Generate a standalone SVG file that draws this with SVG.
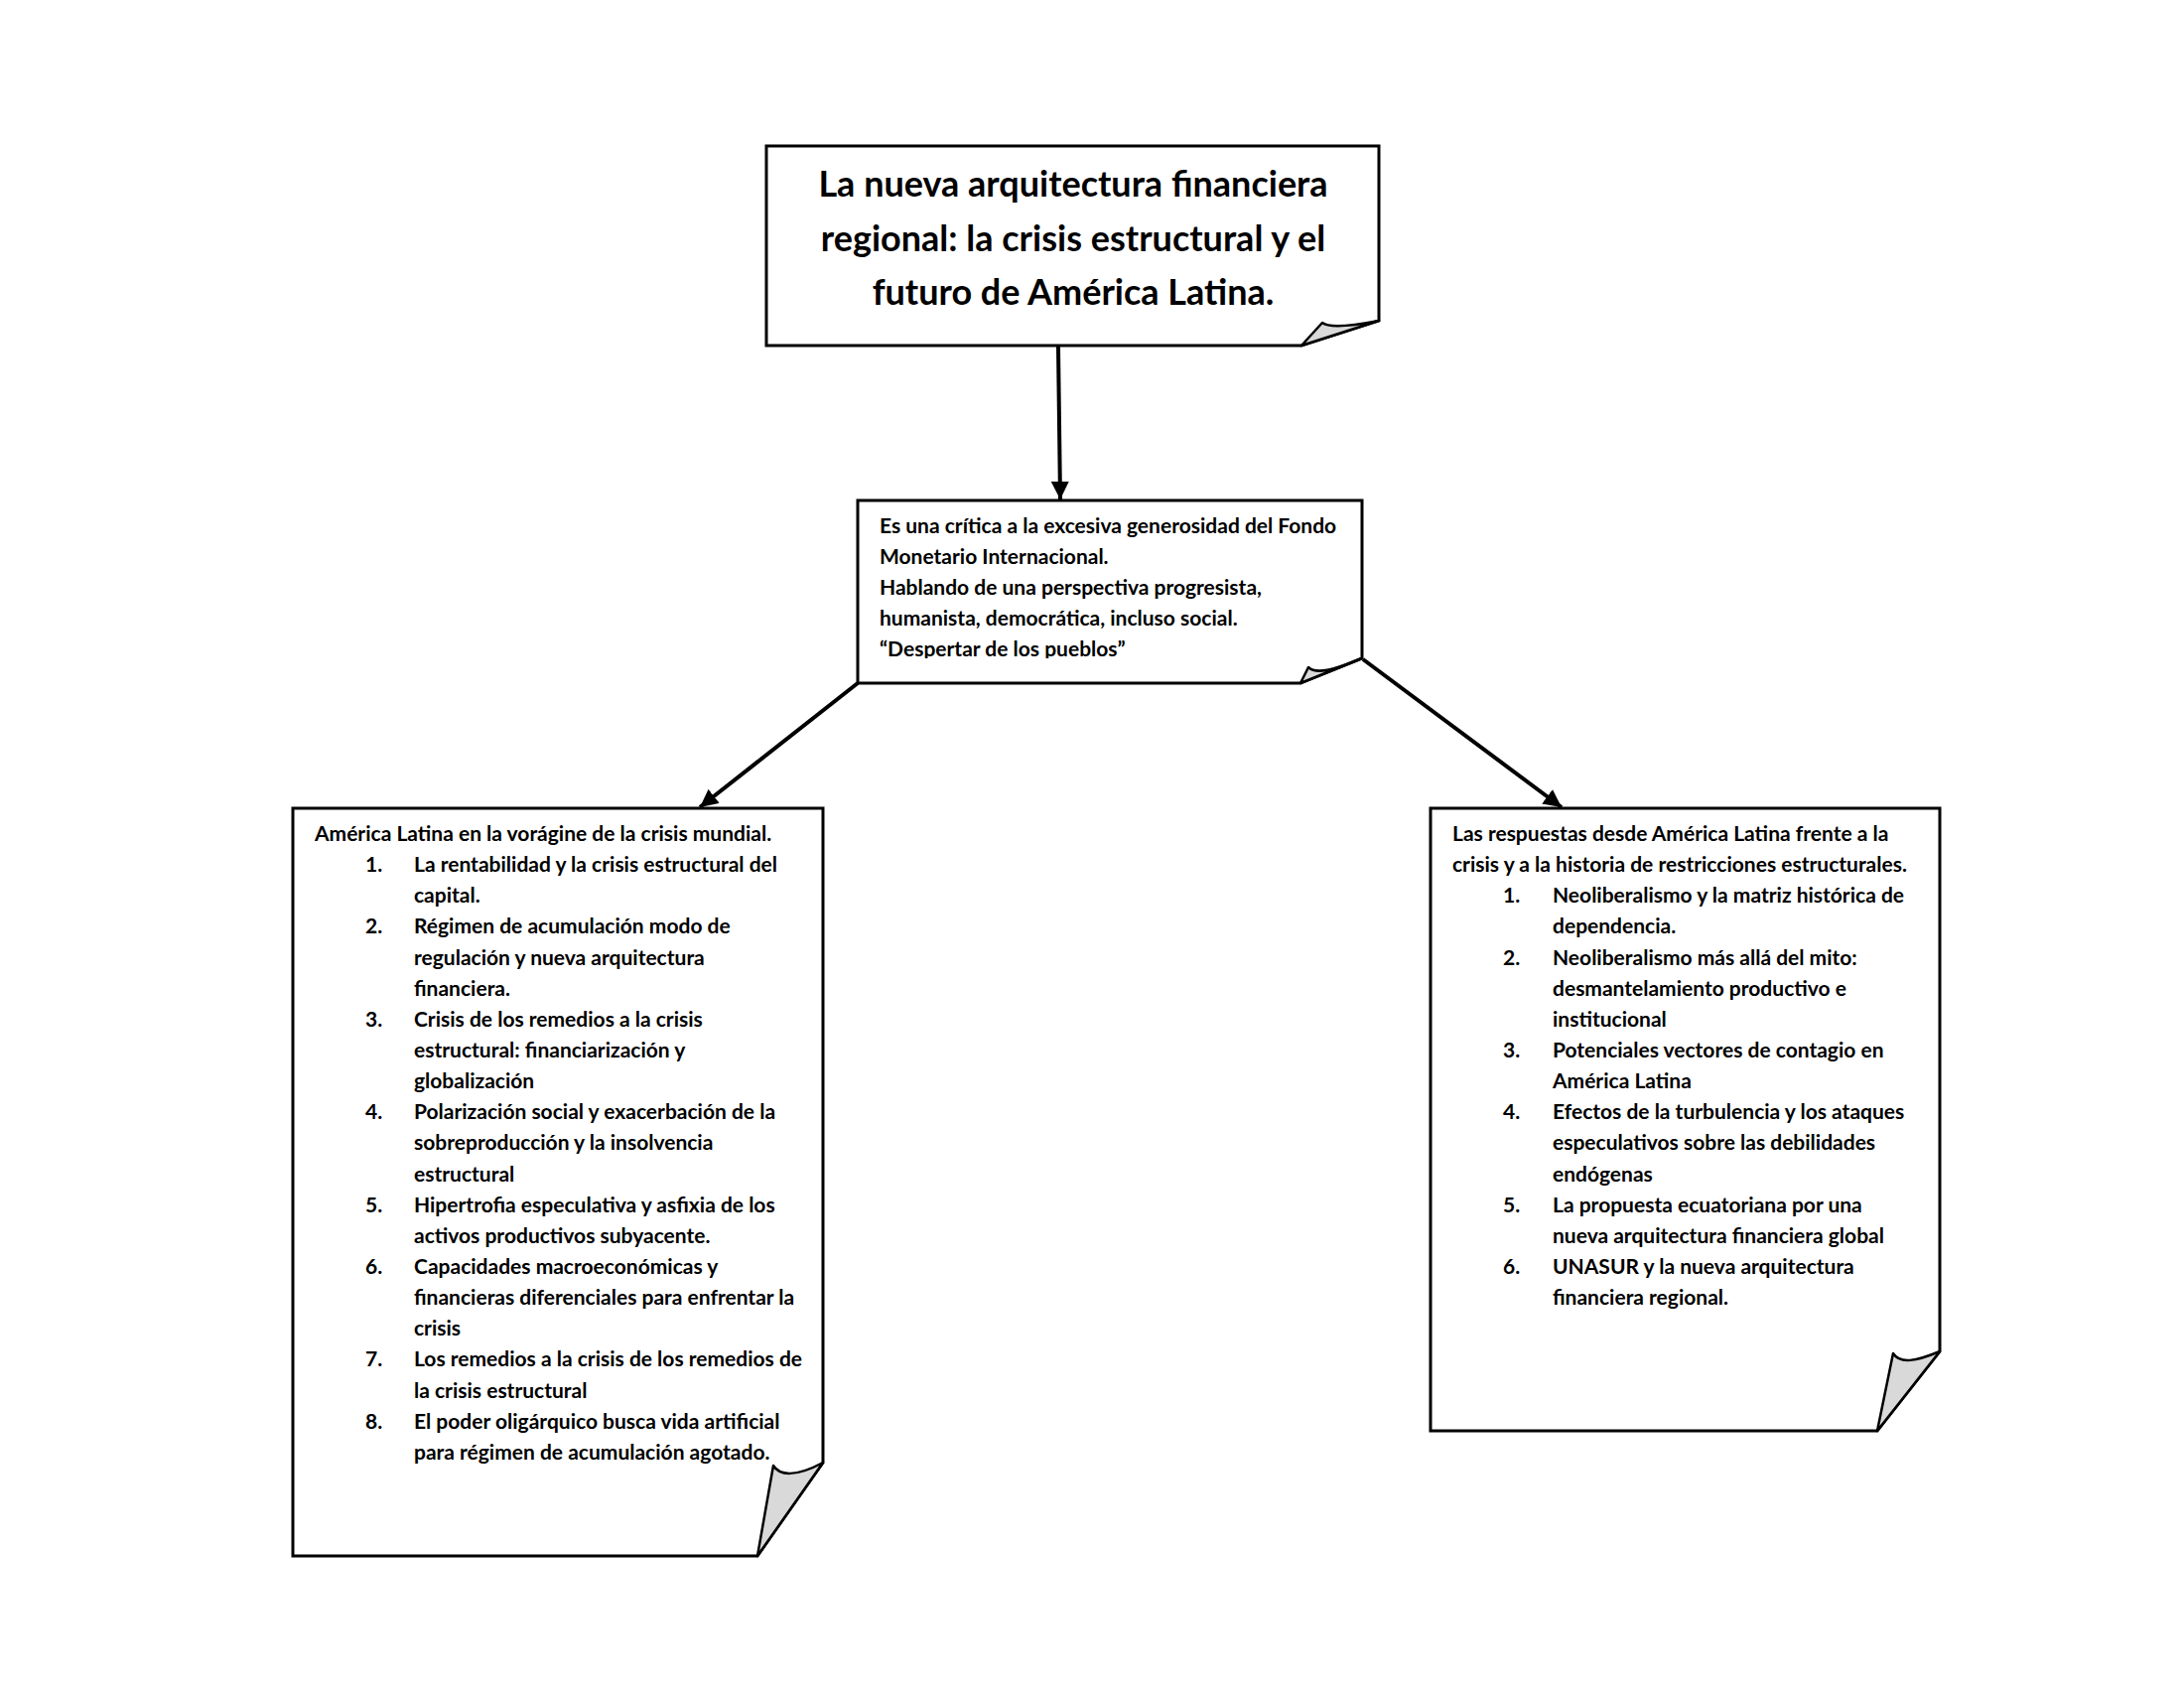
<svg xmlns="http://www.w3.org/2000/svg" width="2200" height="1700" viewBox="0 0 2200 1700">
<defs>
<style>
.box{fill:#fff;stroke:#000;stroke-width:3;stroke-linejoin:miter}
.fold{fill:#d9d9d9;stroke:#000;stroke-width:2.5;stroke-linejoin:round}
.t{font-family:Lato,"Liberation Sans",sans-serif;font-weight:bold;fill:#000}
.title{font-size:36px;text-anchor:middle}
.body{font-size:21px}
.conn{stroke:#000;stroke-width:4;fill:none;marker-end:url(#ah)}
</style>
<marker id="ah" markerUnits="userSpaceOnUse" markerWidth="20" markerHeight="18" refX="18" refY="9" orient="auto" viewBox="0 0 20 18">
<path d="M0,0 L18,9 L0,18 Z" fill="#000"/>
</marker>
<clipPath id="clipMid"><rect x="866" y="506" width="505" height="157"/></clipPath>
</defs>
<rect width="2200" height="1700" fill="#fff"/>

<g id="connectors">
<line class="conn" x1="1066" y1="349" x2="1068" y2="503"/>
<line class="conn" x1="864" y1="688" x2="705" y2="813"/>
<line class="conn" x1="1373" y1="664" x2="1573" y2="813"/>
</g>

<g id="node-title">
<path class="box" d="M772,147 H1389 V323 L1311,348 H772 Z"/>
<path class="fold" d="M1311,348 L1332,325 C1338,330 1358,329 1389,323 Z"/>
<text class="t title" x="1081" y="198">La nueva arquitectura financiera</text>
<text class="t title" x="1081" y="253">regional: la crisis estructural y el</text>
<text class="t title" x="1081" y="307">futuro de América Latina.</text>
</g>

<g id="node-critica">
<path class="box" d="M864,504 H1372 V663 L1310,688 H864 Z"/>
<path class="fold" d="M1310,688 L1318,672 C1325,679 1342,676 1372,663 Z"/>
<g clip-path="url(#clipMid)">
<text class="t body" x="886" y="537">Es una crítica a la excesiva generosidad del Fondo</text>
<text class="t body" x="886" y="568">Monetario Internacional.</text>
<text class="t body" x="886" y="599">Hablando de una perspectiva progresista,</text>
<text class="t body" x="886" y="630">humanista, democrática, incluso social.</text>
<text class="t body" x="886" y="661">“Despertar de los pueblos”</text>
</g>
</g>

<g id="node-left">
<path class="box" d="M295,814 H829 V1473 L763,1567 H295 Z"/>
<path class="fold" d="M763,1567 L779,1476 C785,1486 801,1488 829,1473 Z"/>
<text class="t body" x="317" y="847">América Latina en la vorágine de la crisis mundial.</text>
<text class="t body" x="368" y="878">1.</text><text class="t body" x="417" y="878">La rentabilidad y la crisis estructural del</text>
<text class="t body" x="417" y="909">capital.</text>
<text class="t body" x="368" y="940">2.</text><text class="t body" x="417" y="940">Régimen de acumulación modo de</text>
<text class="t body" x="417" y="972">regulación y nueva arquitectura</text>
<text class="t body" x="417" y="1003">financiera.</text>
<text class="t body" x="368" y="1034">3.</text><text class="t body" x="417" y="1034">Crisis de los remedios a la crisis</text>
<text class="t body" x="417" y="1065">estructural: financiarización y</text>
<text class="t body" x="417" y="1096">globalización</text>
<text class="t body" x="368" y="1127">4.</text><text class="t body" x="417" y="1127">Polarización social y exacerbación de la</text>
<text class="t body" x="417" y="1158">sobreproducción y la insolvencia</text>
<text class="t body" x="417" y="1190">estructural</text>
<text class="t body" x="368" y="1221">5.</text><text class="t body" x="417" y="1221">Hipertrofia especulativa y asfixia de los</text>
<text class="t body" x="417" y="1252">activos productivos subyacente.</text>
<text class="t body" x="368" y="1283">6.</text><text class="t body" x="417" y="1283">Capacidades macroeconómicas y</text>
<text class="t body" x="417" y="1314">financieras diferenciales para enfrentar la</text>
<text class="t body" x="417" y="1345">crisis</text>
<text class="t body" x="368" y="1376">7.</text><text class="t body" x="417" y="1376">Los remedios a la crisis de los remedios de</text>
<text class="t body" x="417" y="1408">la crisis estructural</text>
<text class="t body" x="368" y="1439">8.</text><text class="t body" x="417" y="1439">El poder oligárquico busca vida artificial</text>
<text class="t body" x="417" y="1470">para régimen de acumulación agotado.</text>
</g>

<g id="node-right">
<path class="box" d="M1441,814 H1954 V1361 L1891,1441 H1441 Z"/>
<path class="fold" d="M1891,1441 L1907,1363 C1914,1374 1930,1371 1954,1361 Z"/>
<text class="t body" x="1463" y="847">Las respuestas desde América Latina frente a la</text>
<text class="t body" x="1463" y="878">crisis y a la historia de restricciones estructurales.</text>
<text class="t body" x="1514" y="909">1.</text><text class="t body" x="1564" y="909">Neoliberalismo y la matriz histórica de</text>
<text class="t body" x="1564" y="940">dependencia.</text>
<text class="t body" x="1514" y="972">2.</text><text class="t body" x="1564" y="972">Neoliberalismo más allá del mito:</text>
<text class="t body" x="1564" y="1003">desmantelamiento productivo e</text>
<text class="t body" x="1564" y="1034">institucional</text>
<text class="t body" x="1514" y="1065">3.</text><text class="t body" x="1564" y="1065">Potenciales vectores de contagio en</text>
<text class="t body" x="1564" y="1096">América Latina</text>
<text class="t body" x="1514" y="1127">4.</text><text class="t body" x="1564" y="1127">Efectos de la turbulencia y los ataques</text>
<text class="t body" x="1564" y="1158">especulativos sobre las debilidades</text>
<text class="t body" x="1564" y="1190">endógenas</text>
<text class="t body" x="1514" y="1221">5.</text><text class="t body" x="1564" y="1221">La propuesta ecuatoriana por una</text>
<text class="t body" x="1564" y="1252">nueva arquitectura financiera global</text>
<text class="t body" x="1514" y="1283">6.</text><text class="t body" x="1564" y="1283">UNASUR y la nueva arquitectura</text>
<text class="t body" x="1564" y="1314">financiera regional.</text>
</g>
</svg>
